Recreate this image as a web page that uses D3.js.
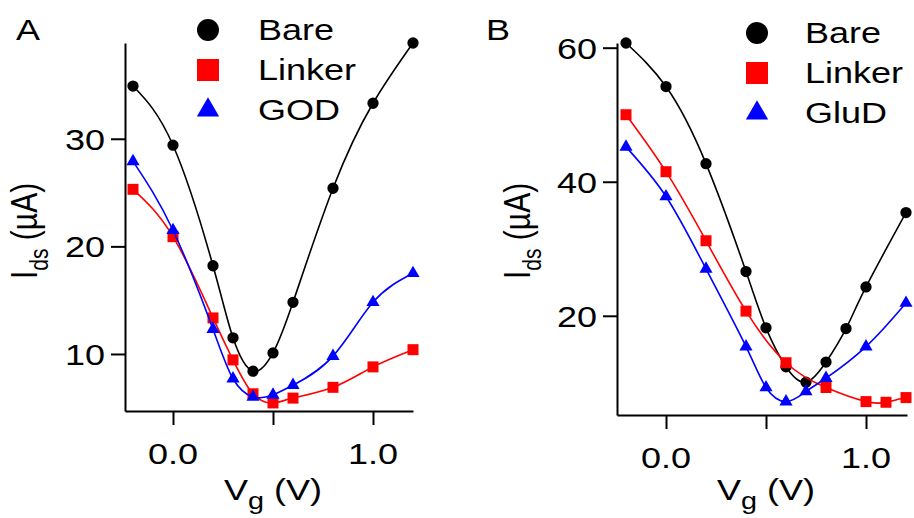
<!DOCTYPE html>
<html><head><meta charset="utf-8">
<script src="https://cdn.jsdelivr.net/npm/d3@7"></script>
<style>html,body{margin:0;padding:0;background:#fff;} svg{display:block;}</style>
</head><body>
<svg id="chart" width="914" height="518"></svg>
<script>
// ---- Data ----
// Panel A
const vgA = [-0.2, 0, 0.2, 0.3, 0.4, 0.5, 0.6, 0.8, 1.0, 1.2];
const bareA = [34.9, 29.4, 18.2, 11.5, 8.4, 10.1, 14.8, 25.4, 33.3, 38.9];
const linkerA = [25.3, 20.9, 13.35, 9.45, 6.3, 5.45, 5.9, 6.9, 8.8, 10.4];
const godA = [27.9, 21.5, 12.3, 7.7, 6.0, 6.2, 7.1, 9.8, 14.8, 17.5];
// Panel B
const vgBareB = [-0.2, 0, 0.2, 0.4, 0.5, 0.6, 0.7, 0.8, 0.9, 1.0, 1.2];
const bareB = [60.7, 54.2, 42.7, 26.6, 18.2, 12.4, 10.1, 13.1, 18.1, 24.3, 35.4];
const vgLinkerB = [-0.2, 0, 0.2, 0.4, 0.6, 0.8, 1.0, 1.1, 1.2];
const linkerB = [50.0, 41.5, 31.2, 20.7, 13.0, 9.3, 7.2, 7.1, 7.8];
const vgGludB = [-0.2, 0, 0.2, 0.4, 0.5, 0.6, 0.7, 0.8, 1.0, 1.2];
const gludB = [45.2, 37.8, 27.0, 15.4, 9.3, 7.2, 8.7, 10.7, 15.4, 21.9];

const xTicks = [0, 0.5, 1.0];
const xTickLabels = ["0.0", "", "1.0"];
const yTicksA = [10, 20, 30];
const yTicksB = [20, 40, 60];
const legendA = ["Bare", "Linker", "GOD"];
const legendB = ["Bare", "Linker", "GluD"];
const panelLabels = ["A", "B"];

// ---- Drawing ----
const svg = d3.select("#chart");
const FONT = "'Liberation Sans', Arial, Helvetica, sans-serif";
const SX = 1.2; // horizontal stretch of the text in the picture
const colors = ["#000000", "#ff0000", "#0000ff"];
const shapes = [d3.symbolCircle, d3.symbolSquare, d3.symbolTriangle];
const markerSizes = [100, 121, 75];
const legendSizes = [380, 484, 215];

function stext(g, x, y, str, anchor, size) {
  return g.append("text")
    .attr("transform", `translate(${x},${y}) scale(${SX},1)`)
    .attr("text-anchor", anchor || "start")
    .attr("font-family", FONT)
    .attr("font-size", size || 30)
    .attr("fill", "#000")
    .text(str);
}

function panel(cfg) {
  const g = svg.append("g");
  const x = d3.scaleLinear().domain(cfg.xDomain).range(cfg.xRange);
  const y = d3.scaleLinear().domain(cfg.yDomain).range(cfg.yRange);
  const x0 = cfg.xRange[0], yb = cfg.yRange[0];

  // axes
  const ax = g.append("g").attr("transform", `translate(0,${yb})`)
    .call(d3.axisBottom(x).tickValues(xTicks).tickFormat("").tickSize(14).tickSizeOuter(0));
  const ay = g.append("g").attr("transform", `translate(${x0},0)`)
    .call(d3.axisLeft(y).tickValues(cfg.yTicks).tickFormat("").tickSize(14).tickSizeOuter(0));
  [ax, ay].forEach(a => {
    a.selectAll("path.domain").attr("stroke", "#000").attr("stroke-width", 2);
    a.selectAll(".tick line").attr("stroke", "#000").attr("stroke-width", 2);
  });

  // tick labels
  xTicks.forEach((t, i) => {
    if (xTickLabels[i]) stext(g, x(t), yb + 53, xTickLabels[i], "middle", 30);
  });
  cfg.yTicks.forEach(t => stext(g, x0 - 20, y(t) + 11, String(t), "end", 30));

  // axis titles
  const xt = g.append("text")
    .attr("transform", `translate(${x(0.5)},500) scale(${SX},1)`)
    .attr("text-anchor", "middle").attr("font-family", FONT).attr("font-size", 30);
  xt.append("tspan").text("V");
  xt.append("tspan").attr("font-size", 24).attr("dy", 9).text("g");
  xt.append("tspan").attr("dy", -9).text(" (V)");

  const yt = g.append("text")
    .attr("transform", `translate(${cfg.yTitleX},279) scale(${SX},1) rotate(-90)`)
    .attr("text-anchor", "start").attr("font-family", FONT).attr("font-size", 30);
  yt.append("tspan").text("I");
  yt.append("tspan").attr("font-size", 21).attr("dy", 9).text("ds");
  yt.append("tspan").attr("dy", -9).text(" (\u00B5A)");

  // panel label
  stext(g, cfg.labelX, 40, cfg.label, "start", 30);

  // series
  cfg.series.forEach((s, i) => {
    const pts = s.x.map((v, k) => [v, s.y[k]]);
    const line = d3.line().x(d => x(d[0])).y(d => y(d[1])).curve(d3.curveNatural);
    g.append("path").attr("d", line(pts)).attr("fill", "none")
      .attr("stroke", colors[i]).attr("stroke-width", 1.6);
    g.selectAll(null).data(pts).enter().append("path")
      .attr("transform", d => `translate(${x(d[0])},${y(d[1])})`)
      .attr("d", d3.symbol().type(shapes[i]).size(markerSizes[i]))
      .attr("fill", colors[i]);
  });

  // legend
  cfg.legend.forEach((name, i) => {
    const by = cfg.legendY + i * 40;
    g.append("path")
      .attr("transform", `translate(${cfg.legendMX},${by - 10})`)
      .attr("d", d3.symbol().type(shapes[i]).size(legendSizes[i]))
      .attr("fill", colors[i]);
    stext(g, cfg.legendTX, by, name, "start", 30);
  });
}

panel({
  xDomain: [-0.24, 1.2], xRange: [125, 413],
  yDomain: [4.7, 38.9], yRange: [411, 43],
  yTicks: yTicksA, yTitleX: 37, label: panelLabels[0], labelX: 16,
  series: [{x: vgA, y: bareA}, {x: vgA, y: linkerA}, {x: vgA, y: godA}],
  legend: legendA, legendY: 40, legendMX: 208, legendTX: 258
});

panel({
  xDomain: [-0.245, 1.205], xRange: [617, 907],
  yDomain: [5.2, 60.7], yRange: [415, 43],
  yTicks: yTicksB, yTitleX: 530, label: panelLabels[1], labelX: 486,
  series: [{x: vgBareB, y: bareB}, {x: vgLinkerB, y: linkerB}, {x: vgGludB, y: gludB}],
  legend: legendB, legendY: 43, legendMX: 757, legendTX: 805
});
</script>
</body></html>
